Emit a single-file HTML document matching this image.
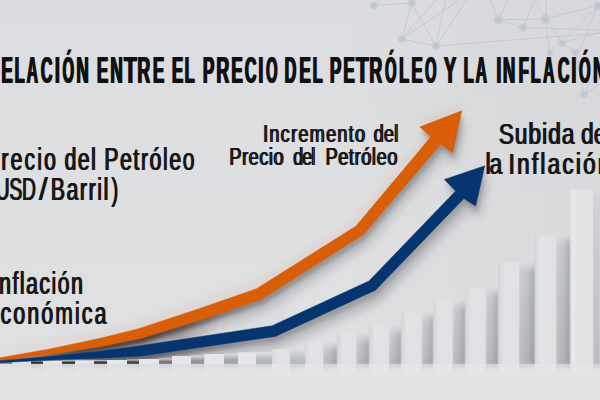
<!DOCTYPE html>
<html><head><meta charset="utf-8"><style>
html,body{margin:0;padding:0;width:600px;height:400px;overflow:hidden;background:#e0e1e3;}
svg{display:block;font-family:"Liberation Sans",sans-serif;font-kerning:none;}
text{font-family:"Liberation Sans",sans-serif;font-kerning:none;}
</style></head><body>
<svg width="600" height="400" viewBox="0 0 600 400">
<defs>
<linearGradient id="bg" x1="0" y1="0" x2="0" y2="1"><stop offset="0" stop-color="#dcdde0"/><stop offset="0.5" stop-color="#dedfe1"/><stop offset="0.9" stop-color="#dfe0e2"/></linearGradient>
<linearGradient id="gapR" x1="0" y1="0" x2="1" y2="0"><stop offset="0" stop-color="#d0d2d5"/><stop offset="0.6" stop-color="#c3c5c9"/><stop offset="0.85" stop-color="#b0b3b7"/><stop offset="1" stop-color="#a4a7ac"/></linearGradient><linearGradient id="vdark" x1="0" y1="0" x2="0" y2="1"><stop offset="0" stop-color="#000" stop-opacity="0"/><stop offset="1" stop-color="#000" stop-opacity="0.11"/></linearGradient>
<linearGradient id="gapL" x1="0" y1="0" x2="1" y2="0"><stop offset="0" stop-color="#c0c2c6"/><stop offset="0.1" stop-color="#b6b9bd"/><stop offset="0.3" stop-color="#c3c5c9"/><stop offset="1" stop-color="#d0d2d5"/></linearGradient>
<linearGradient id="fade" x1="0" y1="0" x2="0" y2="1"><stop offset="0" stop-color="#fff" stop-opacity="0"/><stop offset="1" stop-color="#fff" stop-opacity="1"/></linearGradient>
<linearGradient id="face" x1="0" y1="0" x2="1" y2="0"><stop offset="0" stop-color="#d6d7da"/><stop offset="0.3" stop-color="#e2e3e5"/><stop offset="1" stop-color="#e0e1e3"/></linearGradient>
<linearGradient id="floor" x1="0" y1="0" x2="0" y2="1"><stop offset="0" stop-color="#e2e3e5"/><stop offset="0.3" stop-color="#e3e4e6"/><stop offset="1" stop-color="#e2e3e5"/></linearGradient>
<filter id="blur3" x="-20%" y="-20%" width="140%" height="140%"><feGaussianBlur stdDeviation="3"/></filter>
<filter id="blur5" x="-20%" y="-20%" width="140%" height="140%"><feGaussianBlur stdDeviation="5"/></filter>
<filter id="blur2" x="-20%" y="-20%" width="140%" height="140%"><feGaussianBlur stdDeviation="2"/></filter>
<filter id="blur1"><feGaussianBlur stdDeviation="0.8"/></filter>
<linearGradient id="topfade" x1="0" y1="0" x2="0" y2="1"><stop offset="0" stop-color="#dedfe1" stop-opacity="0.9"/><stop offset="1" stop-color="#dedfe1" stop-opacity="0"/></linearGradient>
<linearGradient id="ledge" x1="0" y1="0" x2="1" y2="0"><stop offset="0" stop-color="#cfd0d4"/><stop offset="1" stop-color="#e1e2e4" stop-opacity="0"/></linearGradient>
<filter id="blurG" x="-30%" y="-10%" width="160%" height="120%"><feGaussianBlur stdDeviation="1.6"/></filter>
</defs>
<rect width="600" height="400" fill="url(#bg)"/>
<linearGradient id="rdark" gradientUnits="userSpaceOnUse" x1="330" y1="0" x2="600" y2="0"><stop offset="0" stop-color="#000" stop-opacity="0"/><stop offset="1" stop-color="#000" stop-opacity="0.025"/></linearGradient>
<rect x="330" y="0" width="270" height="364" fill="url(#rdark)"/>
<line x1="373.6" y1="5.6" x2="411.6" y2="3" stroke="#c4c7cf" stroke-width="0.9"/>
<line x1="373.6" y1="5.6" x2="382" y2="-2" stroke="#c4c7cf" stroke-width="0.9"/>
<line x1="411.6" y1="3" x2="401.6" y2="39" stroke="#c4c7cf" stroke-width="0.9"/>
<line x1="411.6" y1="3" x2="436" y2="46" stroke="#c4c7cf" stroke-width="0.9"/>
<line x1="401.6" y1="39" x2="438" y2="-2" stroke="#c4c7cf" stroke-width="0.9"/>
<line x1="401.6" y1="39" x2="436" y2="46" stroke="#c4c7cf" stroke-width="0.9"/>
<line x1="401.6" y1="39" x2="462" y2="-2" stroke="#c4c7cf" stroke-width="0.9"/>
<line x1="436" y1="46" x2="446" y2="-2" stroke="#c4c7cf" stroke-width="0.9"/>
<line x1="436" y1="46" x2="468" y2="-2" stroke="#c4c7cf" stroke-width="0.9"/>
<line x1="436" y1="46" x2="600" y2="33" stroke="#c4c7cf" stroke-width="0.9"/>
<line x1="498.2" y1="19.9" x2="489.5" y2="-2" stroke="#c4c7cf" stroke-width="0.9"/>
<line x1="498.2" y1="19.9" x2="509" y2="-2" stroke="#c4c7cf" stroke-width="0.9"/>
<line x1="498.2" y1="19.9" x2="545.4" y2="19" stroke="#c4c7cf" stroke-width="0.9"/>
<line x1="498.2" y1="19.9" x2="523" y2="27.7" stroke="#c4c7cf" stroke-width="0.9"/>
<line x1="523" y1="27.7" x2="535" y2="-2" stroke="#c4c7cf" stroke-width="0.9"/>
<line x1="545.4" y1="19" x2="532.8" y2="-2" stroke="#c4c7cf" stroke-width="0.9"/>
<line x1="545.4" y1="19" x2="546.5" y2="-2" stroke="#c4c7cf" stroke-width="0.9"/>
<line x1="545.4" y1="19" x2="597.8" y2="5.4" stroke="#c4c7cf" stroke-width="0.9"/>
<line x1="545.4" y1="19" x2="562" y2="42.9" stroke="#c4c7cf" stroke-width="0.9"/>
<line x1="545.4" y1="19" x2="549.7" y2="53" stroke="#c4c7cf" stroke-width="0.9"/>
<line x1="523" y1="27.7" x2="600" y2="30" stroke="#c4c7cf" stroke-width="0.9"/>
<line x1="562" y1="42.9" x2="575" y2="52" stroke="#c4c7cf" stroke-width="0.9"/>
<line x1="562" y1="42.9" x2="600" y2="32.5" stroke="#c4c7cf" stroke-width="0.9"/>
<line x1="597.8" y1="5.4" x2="574" y2="65" stroke="#c4c7cf" stroke-width="0.9"/>
<line x1="562" y1="42.9" x2="597.8" y2="5.4" stroke="#c4c7cf" stroke-width="0.9"/>
<line x1="584" y1="95" x2="600" y2="62" stroke="#c4c7cf" stroke-width="0.9"/>
<line x1="584" y1="95" x2="600" y2="84" stroke="#c4c7cf" stroke-width="0.9"/>
<line x1="584" y1="95" x2="575" y2="52" stroke="#c4c7cf" stroke-width="0.9"/>
<circle cx="373.6" cy="5.6" r="3.6" fill="#bfc3d2" filter="url(#blur1)"/>
<circle cx="411.6" cy="3" r="3.6" fill="#bfc3d2" filter="url(#blur1)"/>
<circle cx="401.6" cy="39" r="3.6" fill="#bfc3d2" filter="url(#blur1)"/>
<circle cx="436" cy="46" r="3.6" fill="#bfc3d2" filter="url(#blur1)"/>
<circle cx="498.2" cy="19.9" r="4" fill="#bfc3d2" filter="url(#blur1)"/>
<circle cx="523" cy="27.7" r="3.4" fill="#bfc3d2" filter="url(#blur1)"/>
<circle cx="545.4" cy="19" r="4" fill="#bfc3d2" filter="url(#blur1)"/>
<circle cx="562" cy="42.9" r="3.4" fill="#bfc3d2" filter="url(#blur1)"/>
<circle cx="549.7" cy="53" r="3" fill="#bfc3d2" filter="url(#blur1)"/>
<circle cx="575" cy="52" r="3" fill="#bfc3d2" filter="url(#blur1)"/>
<circle cx="597.8" cy="5.4" r="3.6" fill="#bfc3d2" filter="url(#blur1)"/>
<circle cx="584" cy="95" r="3.4" fill="#bfc3d2" filter="url(#blur1)"/>
<linearGradient id="occ" gradientUnits="userSpaceOnUse" x1="0" y1="0" x2="300" y2="0"><stop offset="0" stop-color="#5a5050" stop-opacity="0.5"/><stop offset="0.45" stop-color="#6a6468" stop-opacity="0.35"/><stop offset="0.6" stop-color="#6a6468" stop-opacity="0.4"/><stop offset="0.72" stop-color="#7a787c" stop-opacity="0.05"/><stop offset="1" stop-color="#7a787c" stop-opacity="0"/></linearGradient>
<polygon points="0.00,360.96 4.00,360.40 8.00,359.85 12.00,359.29 16.00,358.74 20.00,358.18 24.00,357.63 28.00,357.07 32.00,356.52 36.00,355.97 40.00,355.41 44.00,354.86 48.00,354.30 52.00,353.73 56.00,353.13 60.00,352.53 64.00,351.93 68.00,351.33 72.00,350.73 76.00,350.13 80.00,349.54 84.00,348.94 88.00,348.34 92.00,347.74 96.00,347.14 100.00,346.54 104.00,345.78 108.00,344.98 112.00,344.18 116.00,343.38 120.00,342.59 124.00,341.79 128.00,340.99 132.00,340.19 136.00,339.39 140.00,338.59 144.00,337.49 148.00,336.24 152.00,334.99 156.00,333.73 160.00,332.48 164.00,331.23 168.00,329.98 172.00,328.73 176.00,327.47 180.00,326.22 184.00,324.97 188.00,323.72 192.00,322.47 196.00,321.21 200.00,319.96 204.00,318.65 208.00,317.30 212.00,315.95 216.00,314.60 220.00,313.25 224.00,311.89 228.00,310.54 232.00,309.19 236.00,307.84 240.00,306.49 244.00,305.14 248.00,303.78 252.00,302.43 256.00,301.08 260.00,299.73 264.00,297.63 268.00,295.09 272.00,292.55 276.00,290.01 280.00,287.47 284.00,284.92 288.00,282.38 292.00,279.84 296.00,277.30 296.00,314.76 292.00,316.61 288.00,318.46 284.00,320.30 280.00,322.15 276.00,324.00 272.00,325.80 268.00,326.40 264.00,327.00 260.00,327.60 256.00,328.20 252.00,328.80 248.00,329.40 244.00,330.00 240.00,330.60 236.00,331.20 232.00,331.80 228.00,332.40 224.00,333.00 220.00,333.60 216.00,334.20 212.00,334.80 208.00,335.40 204.00,336.00 200.00,336.60 196.00,337.20 192.00,337.80 188.00,338.39 184.00,338.99 180.00,339.59 176.00,340.19 172.00,340.79 168.00,341.39 164.00,341.99 160.00,342.59 156.00,343.19 152.00,343.79 148.00,344.39 144.00,344.99 140.00,345.59 136.00,346.16 132.00,346.71 128.00,347.27 124.00,347.83 120.00,348.39 116.00,348.94 112.00,349.50 108.00,350.06 104.00,350.61 100.00,351.17 96.00,351.60 92.00,352.02 88.00,352.44 84.00,352.86 80.00,353.29 76.00,353.71 72.00,354.13 68.00,354.55 64.00,354.97 60.00,355.39 56.00,355.81 52.00,356.23 48.00,356.61 44.00,356.95 40.00,357.29 36.00,357.62 32.00,357.96 28.00,358.30 24.00,358.64 20.00,358.97 16.00,359.31 12.00,359.65 8.00,359.98 4.00,360.32 0.00,360.66 -4.00,361.00" fill="url(#occ)" filter="url(#blur1)"/>
<polygon points="-4.23,358.52 49.58,349.03 99.21,338.58 138.68,328.67 198.27,308.98 256.50,288.78 356.05,226.10 431.00,136.75 419.75,127.00 461.75,110.80 452.75,152.50 440.75,144.25 363.35,234.50 261.50,299.22 201.73,319.42 141.32,338.33 100.79,346.42 50.42,353.97 -3.77,361.48" transform="translate(-1,-6)" fill="#d85e08" opacity="0.09" filter="url(#blur5)"/>
<linearGradient id="mg" gradientUnits="userSpaceOnUse" x1="0" y1="0" x2="600" y2="0"><stop offset="0" stop-color="#fff"/><stop offset="0.25" stop-color="#fff"/><stop offset="0.42" stop-color="#808080"/><stop offset="0.55" stop-color="#707070"/><stop offset="0.8" stop-color="#555"/></linearGradient>
<mask id="mL" maskUnits="userSpaceOnUse" x="0" y="0" width="600" height="400"><rect width="600" height="400" fill="url(#mg)"/></mask>
<polygon points="-4.23,358.52 49.58,349.03 99.21,338.58 138.68,328.67 198.27,308.98 256.50,288.78 356.05,226.10 431.00,136.75 419.75,127.00 461.75,110.80 452.75,152.50 440.75,144.25 363.35,234.50 261.50,299.22 201.73,319.42 141.32,338.33 100.79,346.42 50.42,353.97 -3.77,361.48" transform="translate(4,12)" fill="#6a6c72" opacity="0.3" filter="url(#blur5)"/>
<g mask="url(#mL)"><polygon points="-4.23,358.52 49.58,349.03 99.21,338.58 138.68,328.67 198.27,308.98 256.50,288.78 356.05,226.10 431.00,136.75 419.75,127.00 461.75,110.80 452.75,152.50 440.75,144.25 363.35,234.50 261.50,299.22 201.73,319.42 141.32,338.33 100.79,346.42 50.42,353.97 -3.77,361.48" transform="translate(1.5,5)" fill="#3a2820" opacity="0.8" filter="url(#blur2)"/></g>
<polygon points="-4.07,361.00 49.88,356.45 99.71,351.21 139.37,345.69 272.16,325.77 368.96,281.04 455.60,191.00 444.35,179.50 484.80,165.80 475.60,206.00 463.90,198.50 375.44,290.16 275.34,336.43 140.63,355.91 100.29,358.19 50.12,359.95 -3.93,363.00" transform="translate(4,12)" fill="#6a6c72" opacity="0.35" filter="url(#blur5)"/>
<g mask="url(#mL)"><polygon points="-4.07,361.00 49.88,356.45 99.71,351.21 139.37,345.69 272.16,325.77 368.96,281.04 455.60,191.00 444.35,179.50 484.80,165.80 475.60,206.00 463.90,198.50 375.44,290.16 275.34,336.43 140.63,355.91 100.29,358.19 50.12,359.95 -3.93,363.00" transform="translate(1.5,5)" fill="#303238" opacity="0.7" filter="url(#blur2)"/></g>
<rect x="31" y="361" width="12.0" height="3.0" fill="#333639"/>
<rect x="31" y="361" width="12.0" height="3.0" fill="url(#vdark)"/>
<rect x="31" y="360.5" width="12.0" height="1.8" fill="url(#topfade)"/>
<rect x="62" y="361" width="13.0" height="3.0" fill="#333639"/>
<rect x="62" y="361" width="13.0" height="3.0" fill="url(#vdark)"/>
<rect x="62" y="360.5" width="13.0" height="1.8" fill="url(#topfade)"/>
<rect x="94" y="360.5" width="13.0" height="3.5" fill="#3c3f42"/>
<rect x="94" y="360.5" width="13.0" height="3.5" fill="url(#vdark)"/>
<rect x="94" y="360.0" width="13.0" height="2.1" fill="url(#topfade)"/>
<rect x="127" y="360" width="12.0" height="4.0" fill="#474a4d"/>
<rect x="127" y="360" width="12.0" height="4.0" fill="url(#vdark)"/>
<rect x="127" y="359.5" width="12.0" height="2.4" fill="url(#topfade)"/>
<rect x="159" y="359" width="13.0" height="5.0" fill="#7e8184"/>
<rect x="159" y="359" width="13.0" height="5.0" fill="url(#vdark)"/>
<rect x="159" y="358.5" width="13.0" height="3.0" fill="url(#topfade)"/>
<rect x="191" y="356" width="13.5" height="8.0" fill="#a0a3a6"/>
<rect x="191" y="356" width="13.5" height="8.0" fill="url(#vdark)"/>
<rect x="191" y="355.5" width="13.5" height="4.8" fill="url(#topfade)"/>
<rect x="224" y="354" width="14.0" height="10.0" fill="#b1b4b7"/>
<rect x="224" y="354" width="14.0" height="10.0" fill="url(#vdark)"/>
<rect x="224" y="353.5" width="14.0" height="6.0" fill="url(#topfade)"/>
<rect x="256" y="352.5" width="16.0" height="11.5" fill="#c5c8cb"/>
<rect x="256" y="352.5" width="16.0" height="11.5" fill="url(#vdark)"/>
<rect x="256" y="352.0" width="16.0" height="6.9" fill="url(#topfade)"/>
<rect x="290" y="349" width="15.0" height="15.0" fill="#cccfd2"/>
<rect x="290" y="349" width="15.0" height="15.0" fill="url(#vdark)"/>
<rect x="290" y="348.5" width="15.0" height="9.0" fill="url(#topfade)"/>
<g filter="url(#blurG)">
<rect x="323" y="342.5" width="14.5" height="24.5" fill="url(#gapR)"/>
<rect x="323" y="342.5" width="14.5" height="24.5" fill="url(#vdark)"/>
<rect x="323" y="342.0" width="14.5" height="10.0" fill="url(#topfade)"/>
</g>
<g filter="url(#blurG)">
<rect x="356" y="333.5" width="13.5" height="33.5" fill="url(#gapR)"/>
<rect x="356" y="333.5" width="13.5" height="33.5" fill="url(#vdark)"/>
<rect x="356" y="333.0" width="13.5" height="10.0" fill="url(#topfade)"/>
</g>
<g filter="url(#blurG)">
<rect x="389" y="326" width="12.5" height="41.0" fill="url(#gapR)"/>
<rect x="389" y="326" width="12.5" height="41.0" fill="url(#vdark)"/>
<rect x="389" y="325.5" width="12.5" height="10.0" fill="url(#topfade)"/>
</g>
<g filter="url(#blurG)">
<rect x="421.5" y="312.5" width="12.0" height="54.5" fill="url(#gapR)"/>
<rect x="421.5" y="312.5" width="12.0" height="54.5" fill="url(#vdark)"/>
<rect x="421.5" y="312.0" width="12.0" height="10.0" fill="url(#topfade)"/>
</g>
<g filter="url(#blurG)">
<rect x="452.5" y="300.5" width="13.0" height="66.5" fill="url(#gapR)"/>
<rect x="452.5" y="300.5" width="13.0" height="66.5" fill="url(#vdark)"/>
<rect x="452.5" y="300.0" width="13.0" height="10.0" fill="url(#topfade)"/>
</g>
<g filter="url(#blurG)">
<rect x="485.5" y="288" width="13.0" height="79.0" fill="url(#gapR)"/>
<rect x="485.5" y="288" width="13.0" height="79.0" fill="url(#vdark)"/>
<rect x="485.5" y="287.5" width="13.0" height="10.0" fill="url(#topfade)"/>
</g>
<g filter="url(#blurG)">
<rect x="519" y="262.5" width="16.0" height="104.5" fill="url(#gapR)"/>
<rect x="519" y="262.5" width="16.0" height="104.5" fill="url(#vdark)"/>
<rect x="519" y="262.0" width="16.0" height="10.0" fill="url(#topfade)"/>
</g>
<g filter="url(#blurG)">
<rect x="556" y="235.5" width="14.5" height="131.5" fill="url(#gapR)"/>
<rect x="556" y="235.5" width="14.5" height="131.5" fill="url(#vdark)"/>
<rect x="556" y="235.0" width="14.5" height="10.0" fill="url(#topfade)"/>
</g>
<g filter="url(#blurG)">
<rect x="593" y="189" width="7.0" height="178.0" fill="#d2d3d6"/>
<rect x="593" y="189" width="7.0" height="178.0" fill="url(#vdark)"/>
<rect x="593" y="188.5" width="7.0" height="10.0" fill="url(#topfade)"/>
</g>
<rect x="12" y="361" width="19" height="3" fill="url(#face)"/>
<rect x="12" y="361" width="19" height="3" fill="#e5e6e9"/>
<rect x="43" y="361" width="19" height="3" fill="url(#face)"/>
<rect x="43" y="361" width="19" height="3" fill="#e5e6e9"/>
<rect x="75" y="360.5" width="19" height="3.5" fill="url(#face)"/>
<rect x="75" y="360.5" width="19" height="3.5" fill="#e5e6e9"/>
<rect x="107" y="360" width="20" height="4" fill="url(#face)"/>
<rect x="107" y="360" width="20" height="4" fill="#e5e6e9"/>
<rect x="139" y="359" width="20" height="5" fill="url(#face)"/>
<rect x="139" y="359" width="20" height="5" fill="#e5e6e9"/>
<rect x="172" y="356" width="19" height="8" fill="url(#face)"/>
<rect x="172" y="356" width="19" height="8" fill="#e5e6e9"/>
<rect x="204.5" y="354" width="19.5" height="10" fill="url(#face)"/>
<rect x="204.5" y="354" width="19.5" height="10" fill="#e5e6e9"/>
<rect x="238" y="352.5" width="18" height="11.5" fill="url(#face)"/>
<rect x="238" y="352.5" width="18" height="11.5" fill="#e5e6e9"/>
<rect x="272" y="349" width="18" height="15" fill="url(#face)"/>
<rect x="305" y="342.5" width="18" height="21.5" fill="url(#face)"/>
<rect x="305" y="342.5" width="3" height="21.5" fill="url(#ledge)"/>
<rect x="337.5" y="333.5" width="18.5" height="30.5" fill="url(#face)"/>
<rect x="337.5" y="333.5" width="3" height="30.5" fill="url(#ledge)"/>
<rect x="369.5" y="326" width="19.5" height="38" fill="url(#face)"/>
<rect x="369.5" y="326" width="3" height="38" fill="url(#ledge)"/>
<rect x="401.5" y="312.5" width="20.0" height="51.5" fill="url(#face)"/>
<rect x="401.5" y="312.5" width="3" height="51.5" fill="url(#ledge)"/>
<rect x="433.5" y="300.5" width="19.0" height="63.5" fill="url(#face)"/>
<rect x="433.5" y="300.5" width="3" height="63.5" fill="url(#ledge)"/>
<rect x="465.5" y="288" width="20.0" height="76" fill="url(#face)"/>
<rect x="465.5" y="288" width="3" height="76" fill="url(#ledge)"/>
<rect x="498.5" y="262.5" width="20.5" height="101.5" fill="url(#face)"/>
<rect x="498.5" y="262.5" width="3" height="101.5" fill="url(#ledge)"/>
<rect x="535" y="235.5" width="21" height="128.5" fill="url(#face)"/>
<rect x="535" y="235.5" width="3" height="128.5" fill="url(#ledge)"/>
<rect x="570.5" y="189" width="22.5" height="175" fill="url(#face)"/>
<rect x="571.0" y="189.5" width="4.5" height="175" fill="#eaebed" opacity="0.9" filter="url(#blur1)"/>
<rect x="600" y="150" width="30" height="214" fill="url(#face)"/>
<rect x="600" y="150" width="3" height="214" fill="url(#ledge)"/>
<rect x="0" y="364" width="600" height="36" fill="url(#floor)"/>
<linearGradient id="reflL" x1="0" y1="0" x2="0" y2="1"><stop offset="0" stop-color="#eaebee" stop-opacity="0.6"/><stop offset="1" stop-color="#eaebee" stop-opacity="0"/></linearGradient>
<linearGradient id="reflD" x1="0" y1="0" x2="0" y2="1"><stop offset="0" stop-color="#9a9da2" stop-opacity="0.18"/><stop offset="1" stop-color="#9a9da2" stop-opacity="0"/></linearGradient>
<rect x="0" y="364" width="600" height="3" fill="#d8d9dc" opacity="0.5" filter="url(#blur1)"/>
<rect x="31" y="364" width="12" height="8" fill="url(#reflD)"/>
<rect x="62" y="364" width="13" height="8" fill="url(#reflD)"/>
<rect x="94" y="364" width="13" height="8" fill="url(#reflD)"/>
<rect x="127" y="364" width="12" height="8" fill="url(#reflD)"/>
<rect x="159" y="364" width="13" height="8" fill="url(#reflD)"/>
<rect x="191" y="364" width="13.5" height="8" fill="url(#reflD)"/>
<rect x="224" y="364" width="14" height="8" fill="url(#reflD)"/>
<rect x="256" y="364" width="16" height="8" fill="url(#reflD)"/>
<rect x="272" y="364" width="18" height="12" fill="url(#reflL)"/>
<rect x="290" y="364" width="15" height="8" fill="url(#reflD)"/>
<rect x="305" y="364" width="18" height="12" fill="url(#reflL)"/>
<rect x="323" y="364" width="14.5" height="8" fill="url(#reflD)"/>
<rect x="337.5" y="364" width="18.5" height="12" fill="url(#reflL)"/>
<rect x="356" y="364" width="13.5" height="8" fill="url(#reflD)"/>
<rect x="369.5" y="364" width="19.5" height="12" fill="url(#reflL)"/>
<rect x="389" y="364" width="12.5" height="8" fill="url(#reflD)"/>
<rect x="401.5" y="364" width="20.0" height="12" fill="url(#reflL)"/>
<rect x="421.5" y="364" width="12.0" height="8" fill="url(#reflD)"/>
<rect x="433.5" y="364" width="19.0" height="12" fill="url(#reflL)"/>
<rect x="452.5" y="364" width="13.0" height="8" fill="url(#reflD)"/>
<rect x="465.5" y="364" width="20.0" height="12" fill="url(#reflL)"/>
<rect x="485.5" y="364" width="13.0" height="8" fill="url(#reflD)"/>
<rect x="498.5" y="364" width="20.5" height="12" fill="url(#reflL)"/>
<rect x="519" y="364" width="16" height="8" fill="url(#reflD)"/>
<rect x="535" y="364" width="21" height="12" fill="url(#reflL)"/>
<rect x="556" y="364" width="14.5" height="8" fill="url(#reflD)"/>
<rect x="570.5" y="364" width="22.5" height="12" fill="url(#reflL)"/>
<rect x="593" y="364" width="7" height="8" fill="url(#reflD)"/>
<rect x="600" y="364" width="30" height="12" fill="url(#reflL)"/>
<polygon points="-4.23,358.52 49.58,349.03 99.21,338.58 138.68,328.67 198.27,308.98 256.50,288.78 356.05,226.10 431.00,136.75 419.75,127.00 461.75,110.80 452.75,152.50 440.75,144.25 363.35,234.50 261.50,299.22 201.73,319.42 141.32,338.33 100.79,346.42 50.42,353.97 -3.77,361.48" fill="#d85e08" stroke="#d85e08" stroke-width="0.5" stroke-linejoin="round"/>
<polygon points="-4.07,361.00 49.88,356.45 99.71,351.21 139.37,345.69 272.16,325.77 368.96,281.04 455.60,191.00 444.35,179.50 484.80,165.80 475.60,206.00 463.90,198.50 375.44,290.16 275.34,336.43 140.63,355.91 100.29,358.19 50.12,359.95 -3.93,363.00" fill="#06346f" stroke="#06346f" stroke-width="0.5" stroke-linejoin="round"/>
<text transform="translate(0.65,82.5) scale(0.4629,1)" font-size="37.06" font-weight="bold" fill="#101010">E</text>
<text transform="translate(1.90,82.5) scale(0.4629,1)" font-size="37.06" font-weight="bold" fill="#101010">E</text>
<text transform="translate(13.90,82.5) scale(0.4432,1)" font-size="37.06" font-weight="bold" fill="#101010">L</text>
<text transform="translate(15.15,82.5) scale(0.4432,1)" font-size="37.06" font-weight="bold" fill="#101010">L</text>
<text transform="translate(26.11,82.5) scale(0.4235,1)" font-size="37.06" font-weight="bold" fill="#101010">A</text>
<text transform="translate(27.36,82.5) scale(0.4235,1)" font-size="37.06" font-weight="bold" fill="#101010">A</text>
<text transform="translate(40.34,82.5) scale(0.4334,1)" font-size="37.06" font-weight="bold" fill="#101010">C</text>
<text transform="translate(41.59,82.5) scale(0.4334,1)" font-size="37.06" font-weight="bold" fill="#101010">C</text>
<text transform="translate(54.30,82.5) scale(0.4826,1)" font-size="37.06" font-weight="bold" fill="#101010">I</text>
<text transform="translate(55.55,82.5) scale(0.4826,1)" font-size="37.06" font-weight="bold" fill="#101010">I</text>
<text transform="translate(61.90,82.5) scale(0.3940,1)" font-size="37.06" font-weight="bold" fill="#101010">Ó</text>
<text transform="translate(63.15,82.5) scale(0.3940,1)" font-size="37.06" font-weight="bold" fill="#101010">Ó</text>
<text transform="translate(75.85,82.5) scale(0.4629,1)" font-size="37.06" font-weight="bold" fill="#101010">N</text>
<text transform="translate(77.10,82.5) scale(0.4629,1)" font-size="37.06" font-weight="bold" fill="#101010">N</text>
<text transform="translate(96.35,82.5) scale(0.4629,1)" font-size="37.06" font-weight="bold" fill="#101010">E</text>
<text transform="translate(97.60,82.5) scale(0.4629,1)" font-size="37.06" font-weight="bold" fill="#101010">E</text>
<text transform="translate(109.85,82.5) scale(0.4629,1)" font-size="37.06" font-weight="bold" fill="#101010">N</text>
<text transform="translate(111.10,82.5) scale(0.4629,1)" font-size="37.06" font-weight="bold" fill="#101010">N</text>
<text transform="translate(123.26,82.5) scale(0.5713,1)" font-size="37.06" font-weight="bold" fill="#101010">T</text>
<text transform="translate(124.51,82.5) scale(0.5713,1)" font-size="37.06" font-weight="bold" fill="#101010">T</text>
<text transform="translate(136.80,82.5) scale(0.4826,1)" font-size="37.06" font-weight="bold" fill="#101010">R</text>
<text transform="translate(138.05,82.5) scale(0.4826,1)" font-size="37.06" font-weight="bold" fill="#101010">R</text>
<text transform="translate(152.35,82.5) scale(0.4629,1)" font-size="37.06" font-weight="bold" fill="#101010">E</text>
<text transform="translate(153.60,82.5) scale(0.4629,1)" font-size="37.06" font-weight="bold" fill="#101010">E</text>
<text transform="translate(171.35,82.5) scale(0.4629,1)" font-size="37.06" font-weight="bold" fill="#101010">E</text>
<text transform="translate(172.60,82.5) scale(0.4629,1)" font-size="37.06" font-weight="bold" fill="#101010">E</text>
<text transform="translate(183.90,82.5) scale(0.4432,1)" font-size="37.06" font-weight="bold" fill="#101010">L</text>
<text transform="translate(185.15,82.5) scale(0.4432,1)" font-size="37.06" font-weight="bold" fill="#101010">L</text>
<text transform="translate(202.35,82.5) scale(0.4629,1)" font-size="37.06" font-weight="bold" fill="#101010">P</text>
<text transform="translate(203.60,82.5) scale(0.4629,1)" font-size="37.06" font-weight="bold" fill="#101010">P</text>
<text transform="translate(215.80,82.5) scale(0.4826,1)" font-size="37.06" font-weight="bold" fill="#101010">R</text>
<text transform="translate(217.05,82.5) scale(0.4826,1)" font-size="37.06" font-weight="bold" fill="#101010">R</text>
<text transform="translate(230.85,82.5) scale(0.4629,1)" font-size="37.06" font-weight="bold" fill="#101010">E</text>
<text transform="translate(232.10,82.5) scale(0.4629,1)" font-size="37.06" font-weight="bold" fill="#101010">E</text>
<text transform="translate(244.34,82.5) scale(0.4334,1)" font-size="37.06" font-weight="bold" fill="#101010">C</text>
<text transform="translate(245.59,82.5) scale(0.4334,1)" font-size="37.06" font-weight="bold" fill="#101010">C</text>
<text transform="translate(257.80,82.5) scale(0.4826,1)" font-size="37.06" font-weight="bold" fill="#101010">I</text>
<text transform="translate(259.05,82.5) scale(0.4826,1)" font-size="37.06" font-weight="bold" fill="#101010">I</text>
<text transform="translate(265.40,82.5) scale(0.3940,1)" font-size="37.06" font-weight="bold" fill="#101010">O</text>
<text transform="translate(266.65,82.5) scale(0.3940,1)" font-size="37.06" font-weight="bold" fill="#101010">O</text>
<text transform="translate(283.91,82.5) scale(0.4383,1)" font-size="37.06" font-weight="bold" fill="#101010">D</text>
<text transform="translate(285.16,82.5) scale(0.4383,1)" font-size="37.06" font-weight="bold" fill="#101010">D</text>
<text transform="translate(298.85,82.5) scale(0.4629,1)" font-size="37.06" font-weight="bold" fill="#101010">E</text>
<text transform="translate(300.10,82.5) scale(0.4629,1)" font-size="37.06" font-weight="bold" fill="#101010">E</text>
<text transform="translate(311.90,82.5) scale(0.4432,1)" font-size="37.06" font-weight="bold" fill="#101010">L</text>
<text transform="translate(313.15,82.5) scale(0.4432,1)" font-size="37.06" font-weight="bold" fill="#101010">L</text>
<text transform="translate(329.35,82.5) scale(0.4629,1)" font-size="37.06" font-weight="bold" fill="#101010">P</text>
<text transform="translate(330.60,82.5) scale(0.4629,1)" font-size="37.06" font-weight="bold" fill="#101010">P</text>
<text transform="translate(342.85,82.5) scale(0.4629,1)" font-size="37.06" font-weight="bold" fill="#101010">E</text>
<text transform="translate(344.10,82.5) scale(0.4629,1)" font-size="37.06" font-weight="bold" fill="#101010">E</text>
<text transform="translate(355.26,82.5) scale(0.5713,1)" font-size="37.06" font-weight="bold" fill="#101010">T</text>
<text transform="translate(356.51,82.5) scale(0.5713,1)" font-size="37.06" font-weight="bold" fill="#101010">T</text>
<text transform="translate(368.80,82.5) scale(0.4826,1)" font-size="37.06" font-weight="bold" fill="#101010">R</text>
<text transform="translate(370.05,82.5) scale(0.4826,1)" font-size="37.06" font-weight="bold" fill="#101010">R</text>
<text transform="translate(384.40,82.5) scale(0.3940,1)" font-size="37.06" font-weight="bold" fill="#101010">Ó</text>
<text transform="translate(385.65,82.5) scale(0.3940,1)" font-size="37.06" font-weight="bold" fill="#101010">Ó</text>
<text transform="translate(398.40,82.5) scale(0.4432,1)" font-size="37.06" font-weight="bold" fill="#101010">L</text>
<text transform="translate(399.65,82.5) scale(0.4432,1)" font-size="37.06" font-weight="bold" fill="#101010">L</text>
<text transform="translate(410.85,82.5) scale(0.4629,1)" font-size="37.06" font-weight="bold" fill="#101010">E</text>
<text transform="translate(412.10,82.5) scale(0.4629,1)" font-size="37.06" font-weight="bold" fill="#101010">E</text>
<text transform="translate(424.40,82.5) scale(0.3940,1)" font-size="37.06" font-weight="bold" fill="#101010">O</text>
<text transform="translate(425.65,82.5) scale(0.3940,1)" font-size="37.06" font-weight="bold" fill="#101010">O</text>
<text transform="translate(443.18,82.5) scale(0.5023,1)" font-size="37.06" font-weight="bold" fill="#101010">Y</text>
<text transform="translate(444.43,82.5) scale(0.5023,1)" font-size="37.06" font-weight="bold" fill="#101010">Y</text>
<text transform="translate(462.90,82.5) scale(0.4432,1)" font-size="37.06" font-weight="bold" fill="#101010">L</text>
<text transform="translate(464.15,82.5) scale(0.4432,1)" font-size="37.06" font-weight="bold" fill="#101010">L</text>
<text transform="translate(475.11,82.5) scale(0.4235,1)" font-size="37.06" font-weight="bold" fill="#101010">A</text>
<text transform="translate(476.36,82.5) scale(0.4235,1)" font-size="37.06" font-weight="bold" fill="#101010">A</text>
<text transform="translate(495.80,82.5) scale(0.4826,1)" font-size="37.06" font-weight="bold" fill="#101010">I</text>
<text transform="translate(497.05,82.5) scale(0.4826,1)" font-size="37.06" font-weight="bold" fill="#101010">I</text>
<text transform="translate(502.35,82.5) scale(0.4629,1)" font-size="37.06" font-weight="bold" fill="#101010">N</text>
<text transform="translate(503.60,82.5) scale(0.4629,1)" font-size="37.06" font-weight="bold" fill="#101010">N</text>
<text transform="translate(517.88,82.5) scale(0.4531,1)" font-size="37.06" font-weight="bold" fill="#101010">F</text>
<text transform="translate(519.13,82.5) scale(0.4531,1)" font-size="37.06" font-weight="bold" fill="#101010">F</text>
<text transform="translate(529.90,82.5) scale(0.4432,1)" font-size="37.06" font-weight="bold" fill="#101010">L</text>
<text transform="translate(531.15,82.5) scale(0.4432,1)" font-size="37.06" font-weight="bold" fill="#101010">L</text>
<text transform="translate(542.61,82.5) scale(0.4235,1)" font-size="37.06" font-weight="bold" fill="#101010">A</text>
<text transform="translate(543.86,82.5) scale(0.4235,1)" font-size="37.06" font-weight="bold" fill="#101010">A</text>
<text transform="translate(557.34,82.5) scale(0.4334,1)" font-size="37.06" font-weight="bold" fill="#101010">C</text>
<text transform="translate(558.59,82.5) scale(0.4334,1)" font-size="37.06" font-weight="bold" fill="#101010">C</text>
<text transform="translate(570.80,82.5) scale(0.4826,1)" font-size="37.06" font-weight="bold" fill="#101010">I</text>
<text transform="translate(572.05,82.5) scale(0.4826,1)" font-size="37.06" font-weight="bold" fill="#101010">I</text>
<text transform="translate(578.40,82.5) scale(0.3940,1)" font-size="37.06" font-weight="bold" fill="#101010">Ó</text>
<text transform="translate(579.65,82.5) scale(0.3940,1)" font-size="37.06" font-weight="bold" fill="#101010">Ó</text>
<text transform="translate(592.55,82.5) scale(0.4629,1)" font-size="37.06" font-weight="bold" fill="#101010">N</text>
<text transform="translate(593.80,82.5) scale(0.4629,1)" font-size="37.06" font-weight="bold" fill="#101010">N</text>
<text transform="translate(0.85,169.7) scale(0.6800,1)" font-size="31.00" font-weight="normal" letter-spacing="3.197" fill="#161616">recio</text>
<text transform="translate(2.00,169.7) scale(0.6800,1)" font-size="31.00" font-weight="normal" letter-spacing="3.197" fill="#161616">recio</text>
<text transform="translate(64.11,169.7) scale(0.6800,1)" font-size="31.00" font-weight="normal" letter-spacing="2.217" fill="#161616">del</text>
<text transform="translate(65.26,169.7) scale(0.6800,1)" font-size="31.00" font-weight="normal" letter-spacing="2.217" fill="#161616">del</text>
<text transform="translate(103.77,169.7) scale(0.6800,1)" font-size="31.00" font-weight="normal" letter-spacing="2.447" fill="#161616">Petróleo</text>
<text transform="translate(104.92,169.7) scale(0.6800,1)" font-size="31.00" font-weight="normal" letter-spacing="2.447" fill="#161616">Petróleo</text>
<text transform="translate(-4.98,199.7) scale(0.6200,1)" font-size="31.00" font-weight="normal" letter-spacing="-0.264" fill="#161616">USD</text>
<text transform="translate(-3.83,199.7) scale(0.6200,1)" font-size="31.00" font-weight="normal" letter-spacing="-0.264" fill="#161616">USD</text>
<text transform="translate(38.50,199.7) scale(0.9985,1)" font-size="31.00" font-weight="normal" letter-spacing="0.000" fill="#161616">/</text>
<text transform="translate(39.40,199.7) scale(0.9985,1)" font-size="31.00" font-weight="normal" letter-spacing="0.000" fill="#161616">/</text>
<text transform="translate(50.27,199.7) scale(0.6800,1)" font-size="31.00" font-weight="normal" letter-spacing="2.441" fill="#161616">Barril</text>
<text transform="translate(51.42,199.7) scale(0.6800,1)" font-size="31.00" font-weight="normal" letter-spacing="2.441" fill="#161616">Barril</text>
<text transform="translate(110.88,199.7) scale(0.6509,1)" font-size="31.00" font-weight="normal" letter-spacing="0.000" fill="#161616">)</text>
<text transform="translate(112.03,199.7) scale(0.6509,1)" font-size="31.00" font-weight="normal" letter-spacing="0.000" fill="#161616">)</text>
<text transform="translate(-1.40,294) scale(0.6800,1)" font-size="31.00" font-weight="normal" letter-spacing="2.303" fill="#161616">nflación</text>
<text transform="translate(-0.25,294) scale(0.6800,1)" font-size="31.00" font-weight="normal" letter-spacing="2.303" fill="#161616">nflación</text>
<text transform="translate(0.10,323.6) scale(0.6800,1)" font-size="31.00" font-weight="normal" letter-spacing="3.262" fill="#161616">conómica</text>
<text transform="translate(1.25,323.6) scale(0.6800,1)" font-size="31.00" font-weight="normal" letter-spacing="3.262" fill="#161616">conómica</text>
<text transform="translate(262.43,142) scale(0.7400,1)" font-size="24.50" font-weight="normal" letter-spacing="1.703" fill="#161616">Incremento</text>
<text transform="translate(263.73,142) scale(0.7400,1)" font-size="24.50" font-weight="normal" letter-spacing="1.703" fill="#161616">Incremento</text>
<text transform="translate(372.99,142) scale(0.7400,1)" font-size="24.50" font-weight="normal" letter-spacing="0.291" fill="#161616">del</text>
<text transform="translate(374.29,142) scale(0.7400,1)" font-size="24.50" font-weight="normal" letter-spacing="0.291" fill="#161616">del</text>
<text transform="translate(228.81,165.3) scale(0.7400,1)" font-size="24.50" font-weight="normal" letter-spacing="0.746" fill="#161616">Precio</text>
<text transform="translate(230.11,165.3) scale(0.7400,1)" font-size="24.50" font-weight="normal" letter-spacing="0.746" fill="#161616">Precio</text>
<text transform="translate(292.44,165.3) scale(0.7400,1)" font-size="24.50" font-weight="normal" letter-spacing="-1.365" fill="#161616">del</text>
<text transform="translate(293.74,165.3) scale(0.7400,1)" font-size="24.50" font-weight="normal" letter-spacing="-1.365" fill="#161616">del</text>
<text transform="translate(324.91,165.3) scale(0.7400,1)" font-size="24.50" font-weight="normal" letter-spacing="0.834" fill="#161616">Petróleo</text>
<text transform="translate(326.21,165.3) scale(0.7400,1)" font-size="24.50" font-weight="normal" letter-spacing="0.834" fill="#161616">Petróleo</text>
<text transform="translate(498.18,143.5) scale(0.7600,1)" font-size="29.50" font-weight="normal" letter-spacing="1.502" fill="#161616">Subida</text>
<text transform="translate(499.48,143.5) scale(0.7600,1)" font-size="29.50" font-weight="normal" letter-spacing="1.502" fill="#161616">Subida</text>
<text transform="translate(580.56,143.5) scale(0.7600,1)" font-size="29.50" font-weight="normal" letter-spacing="0.263" fill="#161616">de</text>
<text transform="translate(581.86,143.5) scale(0.7600,1)" font-size="29.50" font-weight="normal" letter-spacing="0.263" fill="#161616">de</text>
<text transform="translate(484.99,173.5) scale(0.7600,1)" font-size="29.50" font-weight="normal" letter-spacing="-1.236" fill="#161616">la</text>
<text transform="translate(486.29,173.5) scale(0.7600,1)" font-size="29.50" font-weight="normal" letter-spacing="-1.236" fill="#161616">la</text>
<text transform="translate(507.93,173.5) scale(0.7600,1)" font-size="29.50" font-weight="normal" letter-spacing="3.003" fill="#161616">Inflación</text>
<text transform="translate(509.23,173.5) scale(0.7600,1)" font-size="29.50" font-weight="normal" letter-spacing="3.003" fill="#161616">Inflación</text>
</svg>
</body></html>
